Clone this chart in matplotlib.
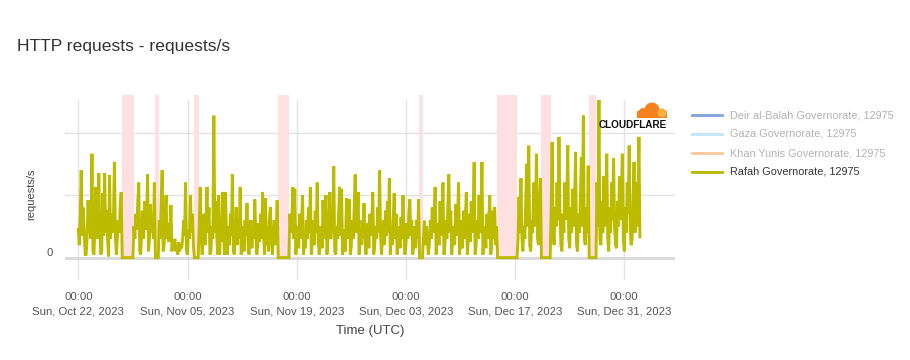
import numpy as np
import pandas as pd
import matplotlib
matplotlib.use("Agg")
import matplotlib.pyplot as plt
import matplotlib.dates as mdates
from matplotlib.patches import Circle, Rectangle

plt.rcParams['font.family'] = ['Liberation Sans', 'DejaVu Sans']

# Rafah Governorate, requests/s, one row per day (Oct 22 ...), 3-hourly samples (00h..21h UTC)
rafah_rows = [
    [0.45, 0.20, 0.70, 1.40, 0.35, 0.80, 0.45, 0.05],  # Oct 22
    [0.05, 0.30, 0.92, 0.40, 0.60, 0.30, 1.66, 0.10],
    [0.05, 0.45, 1.13, 0.30, 0.60, 1.35, 0.40, 0.05],
    [0.10, 1.03, 0.35, 1.35, 0.40, 0.75, 0.30, 0.02],
    [1.32, 0.30, 0.70, 0.40, 0.55, 1.53, 0.35, 0.05],
    [0.30, 0.60, 0.40, 0.85, 1.05, 0.00, 0.00, 0.00],
    [0.00, 0.00, 0.00, 0.00, 0.00, 0.00, 0.00, 0.00],
    [0.00, 0.50, 0.30, 0.70, 0.45, 0.90, 1.20, 0.10],  # Oct 29
    [0.05, 0.40, 0.75, 0.30, 0.90, 0.45, 0.60, 1.33],
    [0.10, 0.30, 0.85, 0.40, 0.60, 0.30, 1.20, 0.00],
    [0.00, 0.00, 0.00, 0.60, 0.30, 0.90, 1.40, 0.10],
    [0.20, 0.60, 1.00, 0.30, 0.55, 0.25, 0.45, 0.84],
    [0.10, 0.25, 0.15, 0.30, 0.10, 0.20, 0.05, 0.25],
    [0.10, 0.20, 0.15, 0.30, 0.60, 0.35, 1.20, 0.10],
    [0.05, 0.45, 0.30, 1.00, 0.40, 0.70, 0.20, 0.00],  # Nov 05
    [0.00, 0.00, 0.00, 0.00, 0.50, 1.13, 0.35, 0.05],
    [0.30, 0.70, 0.20, 0.60, 1.13, 0.40, 0.80, 0.05],
    [0.10, 0.50, 0.30, 2.27, 0.40, 0.90, 0.35, 0.05],
    [1.00, 0.05, 0.60, 0.25, 1.05, 0.35, 0.05, 1.05],
    [0.30, 0.05, 0.50, 0.20, 0.70, 0.35, 1.33, 0.10],
    [0.05, 0.30, 0.81, 0.20, 0.55, 0.30, 1.13, 0.05],
    [0.20, 0.50, 0.10, 0.60, 0.35, 0.87, 0.25, 0.05],  # Nov 12
    [0.30, 0.60, 0.15, 0.45, 0.30, 0.93, 0.40, 0.05],
    [0.20, 0.55, 0.25, 0.70, 0.30, 1.05, 0.35, 0.05],
    [0.95, 0.20, 0.50, 0.10, 0.60, 0.81, 0.30, 0.05],
    [0.30, 0.60, 0.20, 0.50, 0.92, 0.00, 0.00, 0.00],
    [0.00, 0.00, 0.00, 0.00, 0.00, 0.00, 0.00, 0.00],
    [0.00, 0.70, 0.40, 0.60, 1.13, 0.30, 1.10, 0.05],
    [0.20, 0.50, 0.15, 0.70, 0.30, 0.55, 1.00, 0.05],  # Nov 19
    [0.30, 0.15, 0.60, 0.30, 0.80, 0.40, 1.13, 0.05],
    [0.25, 0.60, 0.20, 0.75, 0.40, 1.20, 0.30, 0.05],
    [0.20, 0.50, 0.15, 0.92, 0.30, 0.60, 1.00, 0.05],
    [0.30, 0.60, 1.05, 0.30, 0.70, 0.40, 1.46, 0.10],
    [0.05, 0.50, 0.30, 0.70, 1.13, 0.35, 1.10, 0.05],
    [0.20, 0.45, 0.10, 0.95, 0.30, 0.50, 0.93, 0.05],
    [0.20, 0.60, 0.30, 0.80, 1.33, 0.40, 0.60, 1.05],  # Nov 26
    [0.05, 0.40, 0.20, 0.60, 0.30, 0.87, 0.25, 0.05],
    [0.30, 0.55, 0.15, 0.70, 0.35, 0.60, 1.05, 0.05],
    [0.20, 0.50, 0.30, 0.80, 0.40, 1.40, 0.35, 0.05],
    [0.30, 0.60, 0.20, 0.75, 0.35, 0.90, 0.40, 1.27],
    [0.05, 0.45, 0.20, 0.60, 1.03, 0.30, 0.70, 0.05],
    [0.25, 0.50, 0.15, 0.65, 0.30, 1.00, 0.35, 0.05],
    [0.20, 0.55, 0.30, 0.70, 0.93, 0.35, 0.60, 0.05],  # Dec 03
    [0.25, 0.50, 0.15, 0.60, 0.30, 0.93, 0.00, 0.00],
    [0.00, 0.00, 0.30, 0.59, 0.20, 0.50, 0.30, 0.05],
    [0.20, 0.60, 0.30, 0.80, 0.40, 0.70, 1.13, 0.05],
    [0.30, 0.55, 0.20, 0.90, 0.35, 0.70, 1.20, 0.05],
    [0.20, 0.60, 0.30, 0.80, 1.33, 0.40, 0.75, 0.05],
    [0.30, 0.50, 0.20, 0.85, 0.35, 0.60, 1.20, 0.05],
    [0.25, 0.60, 0.15, 0.75, 0.30, 0.65, 1.05, 0.05],  # Dec 10
    [0.30, 0.70, 0.25, 0.90, 0.40, 0.80, 1.53, 0.05],
    [0.20, 0.60, 0.30, 1.00, 0.40, 0.70, 1.53, 0.05],
    [0.30, 0.50, 0.15, 0.70, 0.30, 0.60, 1.00, 0.05],
    [0.20, 0.75, 0.30, 0.81, 0.20, 0.50, 0.00, 0.00],
    [0.00, 0.00, 0.00, 0.00, 0.00, 0.00, 0.00, 0.00],
    [0.00, 0.00, 0.00, 0.00, 0.00, 0.00, 0.00, 0.00],
    [0.00, 0.00, 0.00, 0.30, 0.97, 0.40, 1.27, 0.30],  # Dec 17
    [0.10, 0.50, 0.30, 1.00, 1.50, 0.50, 1.79, 0.20],
    [0.10, 0.60, 0.40, 1.20, 0.50, 0.90, 1.66, 0.30],
    [0.20, 0.70, 1.27, 0.00, 0.00, 0.00, 0.00, 0.00],
    [0.00, 0.00, 0.00, 0.00, 0.00, 0.80, 1.85, 0.40],
    [0.20, 0.80, 0.50, 1.20, 0.60, 1.93, 0.70, 0.20],
    [0.10, 0.70, 0.40, 1.20, 0.60, 0.90, 1.80, 0.30],
    [0.15, 0.80, 0.40, 1.10, 0.50, 0.90, 1.69, 0.20],  # Dec 24
    [0.10, 0.70, 0.40, 1.00, 1.61, 0.50, 2.27, 0.30],
    [0.20, 0.80, 0.40, 1.47, 0.00, 0.00, 0.00, 0.00],
    [0.00, 0.00, 0.00, 0.00, 1.20, 0.50, 2.52, 0.30],
    [0.20, 0.90, 0.40, 1.30, 0.50, 1.00, 1.66, 0.30],
    [0.10, 0.80, 0.40, 1.20, 0.60, 1.59, 0.50, 0.20],
    [0.15, 0.90, 0.50, 1.30, 0.60, 1.00, 1.66, 0.30],
    [0.10, 0.80, 0.40, 1.20, 0.70, 1.79, 0.50, 0.20],  # Dec 31
    [0.30, 0.90, 1.53, 0.40, 1.20, 0.50, 0.80, 1.93],
    [0.33],
]
rafah = [v for row in rafah_rows for v in row]
times = pd.date_range("2023-10-22 00:00", periods=len(rafah), freq="3h")

# outage periods (shaded)
outages = [
    ("2023-10-27 15:00", "2023-10-29 02:00"),
    ("2023-10-31 20:00", "2023-11-01 08:00"),
    ("2023-11-05 20:00", "2023-11-06 10:00"),
    ("2023-11-16 14:00", "2023-11-18 00:00"),
    ("2023-12-04 17:00", "2023-12-05 04:00"),
    ("2023-12-14 17:00", "2023-12-17 06:00"),
    ("2023-12-20 07:00", "2023-12-21 14:00"),
    ("2023-12-26 12:00", "2023-12-27 10:00"),
]

tick_dates = pd.date_range("2023-10-22", "2023-12-31", freq="14D")

legend_names = ["Deir al-Balah Governorate, 12975", "Gaza Governorate, 12975",
                "Khan Yunis Governorate, 12975", "Rafah Governorate, 12975"]
legend_colors = ["#7fa2da", "#bfe5f5", "#ffc79a", "#b9b700"]
legend_text_colors = ["#b3b3b3", "#b3b3b3", "#b3b3b3", "#333333"]

fig = plt.figure(figsize=(9.1, 3.6), dpi=100)
ax = fig.add_axes([65 / 910, 80.5 / 360, 610 / 910, 184.5 / 360])

ymin, ymax = -0.35, 2.6
ax.set_ylim(ymin, ymax)
ax.set_xlim(pd.Timestamp("2023-10-20 07:00"), pd.Timestamp("2024-01-06 12:00"))

for s, e in outages:
    ax.axvspan(pd.Timestamp(s), pd.Timestamp(e), ymin=(0 - ymin) / (ymax - ymin), ymax=1,
               color="#ffe0e1", lw=0, zorder=1)

for t in tick_dates:
    ax.axvline(t, ymin=0, ymax=(2.52 - ymin) / (ymax - ymin), color="#e3e3e3", lw=1, zorder=0)
for yv in [1, 2]:
    ax.axhline(yv, color="#e3e3e3", lw=1, zorder=0)
ax.axhline(0, color="#d8d8d8", lw=2, zorder=0)

ax.plot(times, rafah, color="#bdbb00", lw=2.1, zorder=3, solid_joinstyle="miter")

ax.set_xticks(tick_dates)
ax.xaxis.set_major_formatter(mdates.DateFormatter("%H:%M\n%a, %b %d, %Y"))
ax.set_yticks([0])
ax.set_yticklabels(["0"])
ax.tick_params(axis="both", length=0, labelsize=8.2, labelcolor="#555555")
ax.tick_params(axis="x", pad=9)
ax.tick_params(axis="y", pad=9)
for lab in ax.get_xticklabels():
    lab.set_linespacing(1.5)
for lab in ax.get_yticklabels():
    lab.set_verticalalignment("bottom")
for sp in ax.spines.values():
    sp.set_visible(False)

ax.set_xlabel("Time (UTC)", fontsize=9.5, color="#444444")
ax.xaxis.set_label_coords(0.5, -0.245)
ax.set_ylabel("requests/s", fontsize=8, color="#444444")
ax.yaxis.set_label_coords(-0.047, 0.46)

# overlay in pixel coordinates for title, legend and logo
ov = fig.add_axes([0, 0, 1, 1], facecolor="none")
ov.set_xlim(0, 910)
ov.set_ylim(360, 0)
ov.axis("off")

ov.text(17, 47, "HTTP requests - requests/s", fontsize=12.6, color="#333333", va="center", ha="left")

for i, (name, c, tc) in enumerate(zip(legend_names, legend_colors, legend_text_colors)):
    y = 115 + i * 19
    ov.plot([692, 722], [y, y], color=c, lw=2)
    ov.text(730, y, name, fontsize=7.8, color=tc, va="center", ha="left")

# cloudflare logo
ov.add_patch(Rectangle((637, 111), 30, 6.5, color="#f6821f", lw=0))
ov.add_patch(Circle((652, 110), 7.5, color="#f6821f", lw=0))
ov.add_patch(Circle((643, 112.5), 4.5, color="#f6821f", lw=0))
ov.add_patch(Circle((662, 113), 4.5, color="#fbad41", lw=0))
ov.text(633, 125, "CLOUDFLARE", fontsize=7.2, fontweight="bold", color="#111111",
        ha="center", va="center")

fig.savefig("out.png", dpi=100)
